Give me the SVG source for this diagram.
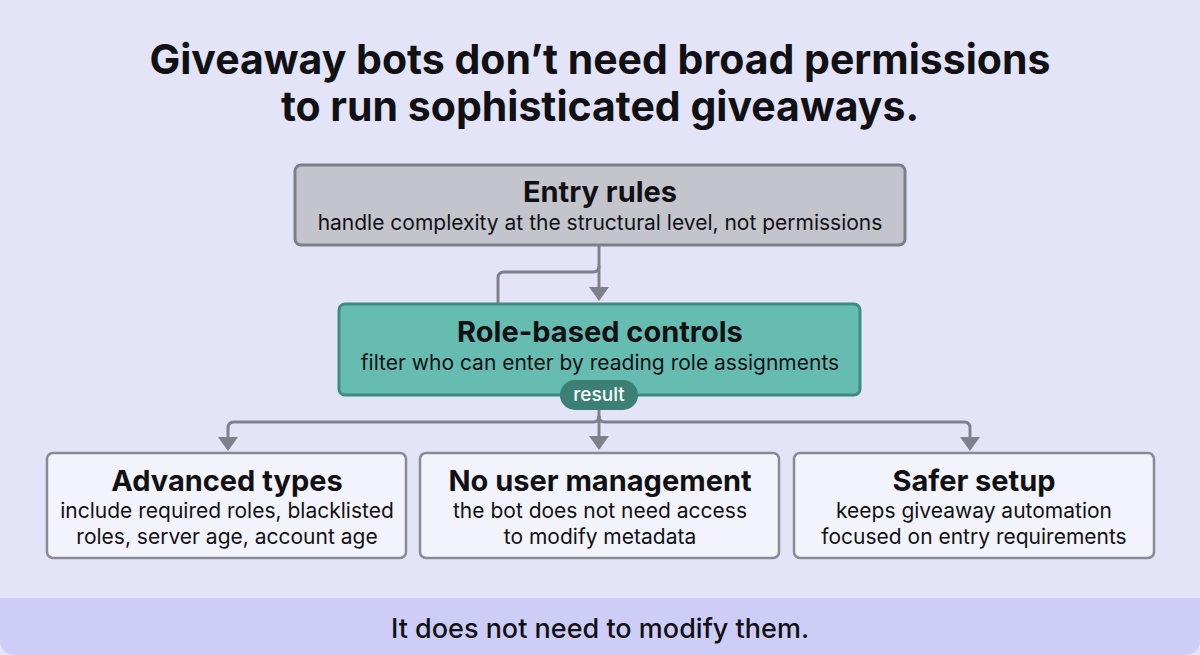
<svg xmlns="http://www.w3.org/2000/svg" width="1200" height="655" viewBox="0 0 1200 655">
<defs>
<style>
.t{font-family:Inter,"Noto Sans","Liberation Sans",sans-serif;fill:#111114;text-anchor:middle}
.h1{font-size:41px;font-weight:700}
.nt{font-size:29px;font-weight:700}
.ns{font-size:21px;font-weight:400}
.conn{fill:none;stroke:#80808c;stroke-width:3;stroke-linejoin:round}
.leaf{fill:#f3f3fb;stroke:#8a8a96;stroke-width:2.5}
</style>
</defs>
<rect x="0" y="0" width="1200" height="655" fill="#e4e4f8"/>
<path d="M0,598 H1200 V639 Q1200,655 1184,655 H16 Q0,655 0,639 Z" fill="#cdcdf8"/>
<g id="title">
<text class="t h1" x="600" y="74">Giveaway bots don’t need broad permissions</text>
<text class="t h1" x="600" y="121">to run sophisticated giveaways.</text>
</g>
<g id="connectors">
<path class="conn" d="M599,246 V290"/>
<path d="M589,287 L609,287 L599,301 Z" fill="#80808c"/>
<path class="conn" d="M599,266 Q599,272 593,272 H504 Q498,272 498,278 V304"/>
<path class="conn" d="M599,410 V438"/>
<path d="M589,436 L609,436 L599,450 Z" fill="#80808c"/>
<path class="conn" d="M599,416 Q599,422 593,422 H234 Q228,422 228,428 V440"/>
<path d="M218,437 L238,437 L228,451 Z" fill="#80808c"/>
<path class="conn" d="M599,416 Q599,422 605,422 H964 Q970,422 970,428 V440"/>
<path d="M960,437 L980,437 L970,451 Z" fill="#80808c"/>
</g>
<g id="entry-rules">
<rect x="295" y="165" width="610" height="80" rx="6" fill="#c3c4cc" stroke="#7d7e8a" stroke-width="3"/>
<text class="t nt" x="600" y="202">Entry rules</text>
<text class="t ns" x="600" y="230">handle complexity at the structural level, not permissions</text>
</g>
<g id="role-based">
<rect x="339" y="304" width="521" height="91" rx="6" fill="#66bcb1" stroke="#3c8c80" stroke-width="3"/>
<text class="t nt" x="600" y="342">Role-based controls</text>
<text class="t ns" x="600" y="370">filter who can enter by reading role assignments</text>
</g>
<g id="result-label">
<rect x="560" y="380" width="78" height="30" rx="15" fill="#3b7f75"/>
<text class="t" x="599" y="401" style="font-size:19px;font-weight:500;fill:#ffffff">result</text>
</g>
<g id="advanced-types">
<rect class="leaf" x="47" y="453" width="359" height="105" rx="6"/>
<text class="t nt" x="227" y="491">Advanced types</text>
<text class="t ns" x="227" y="518">include required roles, blacklisted</text>
<text class="t ns" x="227" y="544">roles, server age, account age</text>
</g>
<g id="no-user-management">
<rect class="leaf" x="420" y="453" width="359" height="105" rx="6"/>
<text class="t nt" x="600" y="491">No user management</text>
<text class="t ns" x="600" y="518">the bot does not need access</text>
<text class="t ns" x="600" y="544">to modify metadata</text>
</g>
<g id="safer-setup">
<rect class="leaf" x="794" y="453" width="360" height="105" rx="6"/>
<text class="t nt" x="974" y="491">Safer setup</text>
<text class="t ns" x="974" y="518">keeps giveaway automation</text>
<text class="t ns" x="974" y="544">focused on entry requirements</text>
</g>
<g id="footer">
<text class="t" x="600" y="638" style="font-size:27px;font-weight:500">It does not need to modify them.</text>
</g>
</svg>
